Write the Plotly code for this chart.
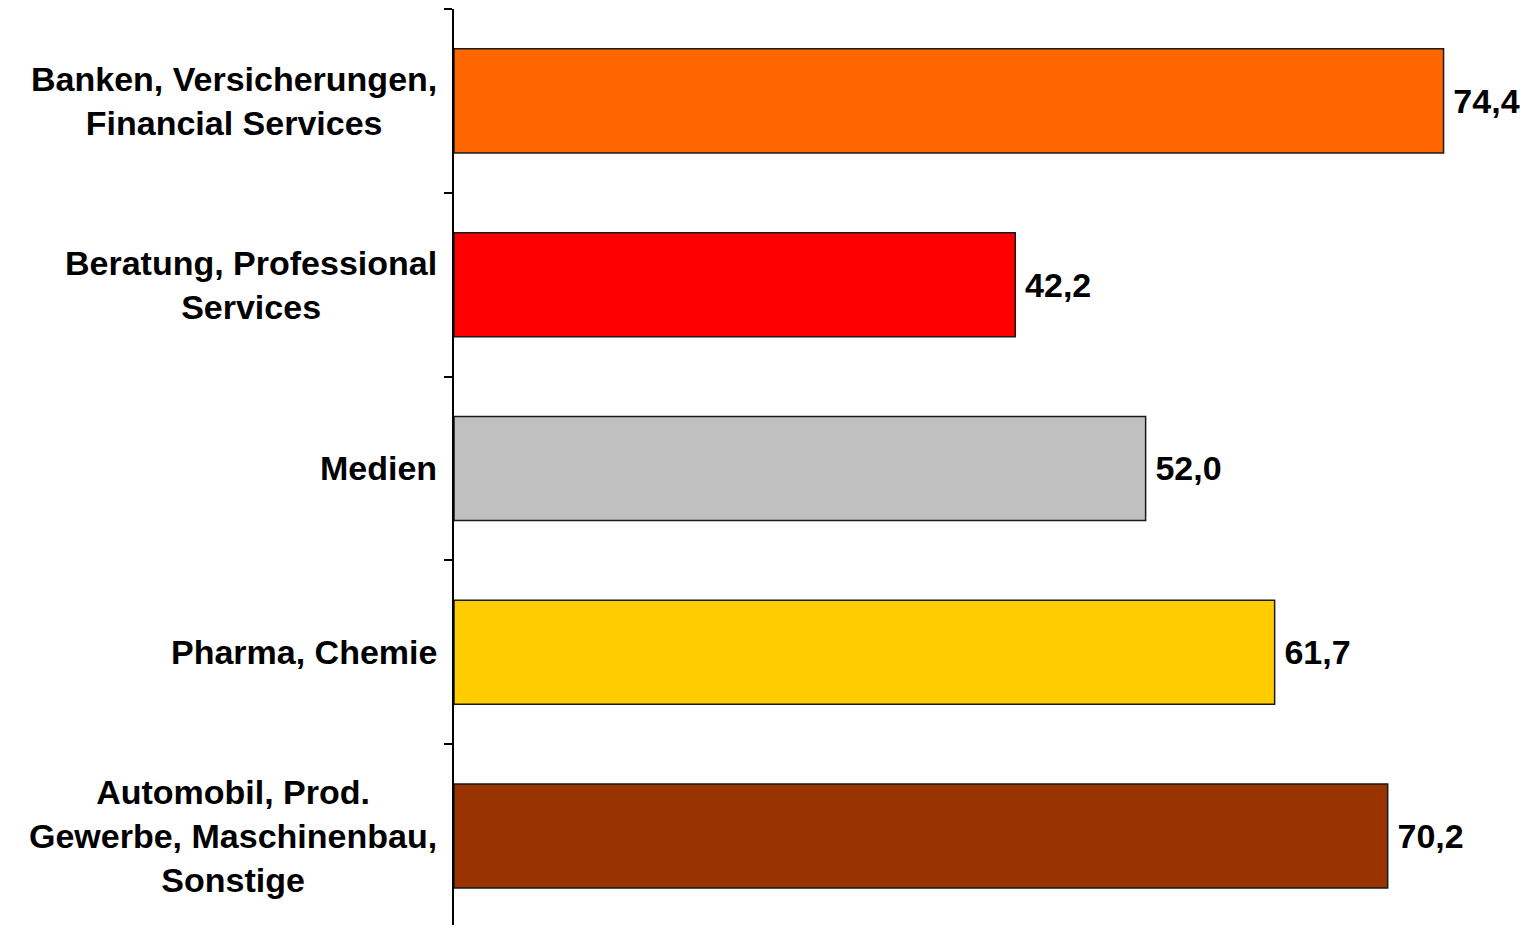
import plotly.graph_objects as go

# Kategorien und Werte
kategorien = [
    "Banken, Versicherungen,<br>Financial Services",
    "Beratung, Professional<br>Services",
    "Medien",
    "Pharma, Chemie",
    "Automobil, Prod.<br>Gewerbe, Maschinenbau,<br>Sonstige",
]
werte = [74.4, 42.2, 52.0, 61.7, 70.2]
farben = ["#FF6600", "#FF0000", "#C0C0C0", "#FFCC00", "#993300"]

# Werte mit Dezimalkomma
beschriftung = ["\u2009" + f"{v:.1f}".replace(".", ",") for v in werte]

schrift = dict(family="Arial, Liberation Sans, sans-serif", size=34, color="black", weight="bold")

fig = go.Figure(
    go.Bar(
        y=kategorien,
        x=werte,
        orientation="h",
        marker=dict(color=farben, line=dict(color="#1a1a1a", width=1.5)),
        text=beschriftung,
        textposition="outside",
        textfont=schrift,
        constraintext="none",
        cliponaxis=False,
        hoverinfo="skip",
    )
)

# Kategorie-Beschriftungen zentriert (mehrzeilig)
for k in kategorien:
    fig.add_annotation(
        x=0, xref="paper", xanchor="right", xshift=-15,
        y=k, yref="y", yanchor="middle",
        text=k, showarrow=False, align="center", font=schrift,
    )

fig.update_layout(
    width=1522,
    height=917,
    margin=dict(l=446, r=0, t=1, b=0),
    plot_bgcolor="white",
    paper_bgcolor="white",
    bargap=0.434,
    showlegend=False,
)

fig.update_xaxes(range=[0, 80.9], visible=False)
fig.update_yaxes(
    type="category",
    range=[4.485, -0.5],
    showticklabels=False,
    showline=True,
    linecolor="black",
    linewidth=2,
    ticks="outside",
    tickson="boundaries",
    ticklen=8,
    tickwidth=2,
    tickcolor="black",
    showgrid=False,
    zeroline=False,
)

fig.write_html("out.html")
